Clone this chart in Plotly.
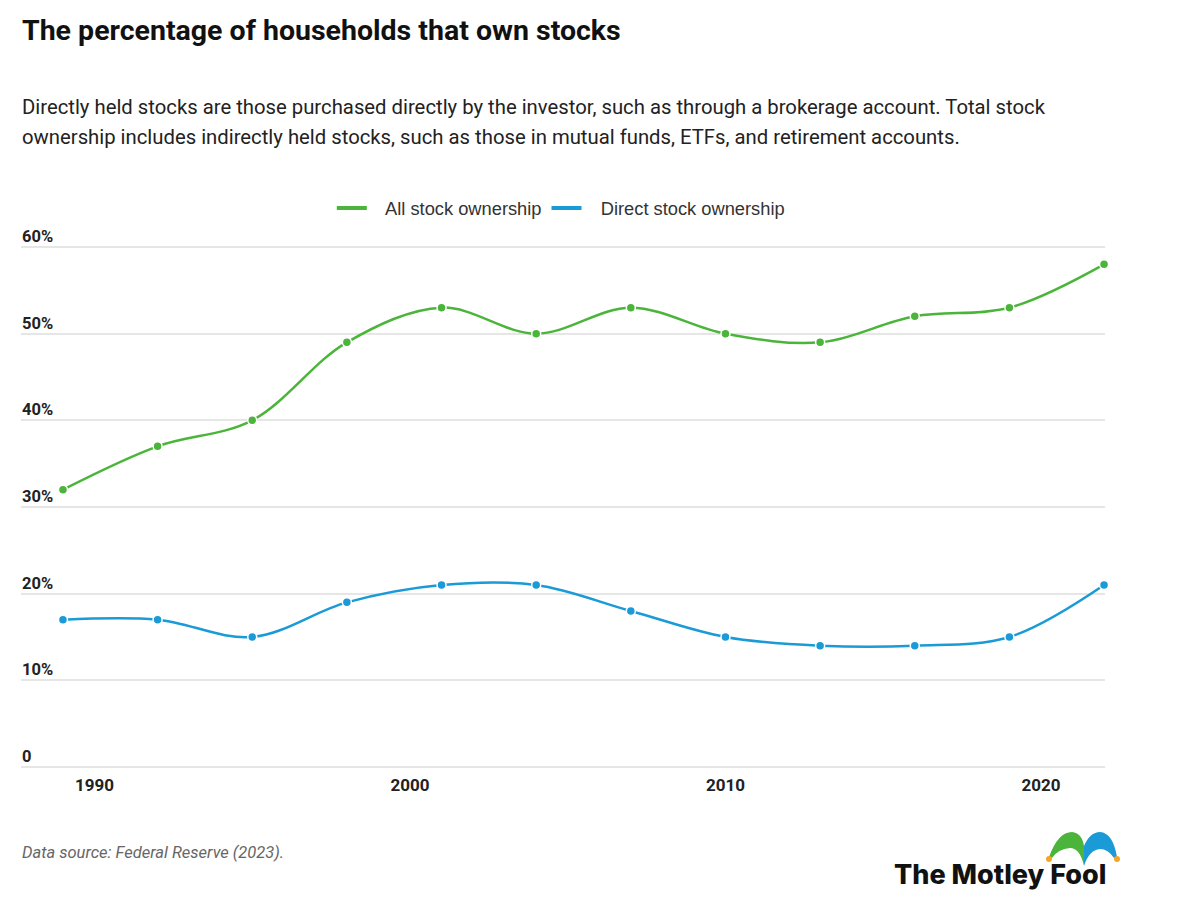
import plotly.graph_objects as go

years = [1989, 1992, 1995, 1998, 2001, 2004, 2007, 2010, 2013, 2016, 2019, 2022]
all_stock = [32, 37, 40, 49, 53, 50, 53, 50, 49, 52, 53, 58]
direct_stock = [17, 17, 15, 19, 21, 21, 18, 15, 14, 14, 15, 21]
x_ticks = [1990, 2000, 2010, 2020]
y_ticks = [0, 10, 20, 30, 40, 50, 60]
y_labels = ["0", "10%", "20%", "30%", "40%", "50%", "60%"]

GREEN = "#4bb43a"
BLUE = "#1a9ad6"

W, H = 1200, 910
L, R, T, B = 21, 1105, 245, 769
Y0, Y1 = -0.23, 60.23


def px(x):
    return (x - L) / (R - L)


def py(y):
    return (B - y) / (B - T)


fig = go.Figure()
for name, vals, col in [("All stock ownership", all_stock, GREEN),
                        ("Direct stock ownership", direct_stock, BLUE)]:
    fig.add_trace(go.Scatter(
        x=years, y=vals, mode="lines+markers", name=name, showlegend=False,
        line=dict(color=col, width=2.5, shape="spline", smoothing=1.0),
        marker=dict(color=col, size=9, line=dict(color="white", width=1.5)),
        cliponaxis=False, hovertemplate="%{x}: %{y}%<extra></extra>"))
    fig.add_trace(go.Scatter(
        x=[None], y=[None], mode="lines", name="\u2002 " + name, showlegend=True,
        line=dict(color=col, width=4)))

annotations = [
    dict(text="<b>The percentage of households that own stocks</b>", x=px(20), y=py(30),
         xanchor="left", yanchor="middle", font=dict(family="Roboto", size=28.5, color="#111")),
    dict(text="Directly held stocks are those purchased directly by the investor, such as through a brokerage account. Total stock",
         x=px(20), y=py(107), xanchor="left", yanchor="middle",
         font=dict(family="Roboto", size=20.3, color="#222")),
    dict(text="ownership includes indirectly held stocks, such as those in mutual funds, ETFs, and retirement accounts.",
         x=px(20), y=py(137), xanchor="left", yanchor="middle",
         font=dict(family="Roboto", size=20.3, color="#222")),
    dict(text="<i>Data source: Federal Reserve (2023).</i>", x=px(20), y=py(852),
         xanchor="left", yanchor="middle", font=dict(family="Roboto", size=16.5, color="#666")),
    dict(text="The Motley Fool", x=px(1108), y=py(874), xanchor="right", yanchor="middle",
         font=dict(family="Inter", size=27, color="#111", weight=800)),
]
for v, lab in zip(y_ticks, y_labels):
    annotations.append(dict(text=f"<b>{lab}</b>", x=px(20), y=v, yref="y",
                            xanchor="left", yanchor="bottom", yshift=-1,
                            font=dict(family="Roboto", size=16.5, color="#222")))
for a in annotations:
    a.setdefault("yref", "paper")
    a.update(xref="paper", showarrow=False)


def P(x, y):
    return f"{px(x):.5f},{py(y):.5f}"


green_hat = (f"M {P(1049,857)} Q {P(1058,832)} {P(1072,832)} Q {P(1082,833)} {P(1084,846)} "
             f"L {P(1084,866)} Q {P(1080,848)} {P(1070,848)} Q {P(1058,849)} {P(1052,858)} Z")
blue_hat = (f"M {P(1084,846)} Q {P(1090,832)} {P(1100,832)} Q {P(1113,833)} {P(1117,857)} "
            f"L {P(1114,858)} Q {P(1108,849)} {P(1100,849)} Q {P(1089,850)} {P(1084,866)} Z")
shapes = [
    dict(type="path", path=green_hat, xref="paper", yref="paper", fillcolor=GREEN, line=dict(width=0)),
    dict(type="path", path=blue_hat, xref="paper", yref="paper", fillcolor=BLUE, line=dict(width=0)),
]
for cx in (1049, 1117):
    shapes.append(dict(type="circle", xref="paper", yref="paper",
                       x0=px(cx - 3), x1=px(cx + 3), y0=py(862), y1=py(856),
                       fillcolor="#f5a623", line=dict(width=0)))

fig.update_layout(
    width=W, height=H,
    margin=dict(l=L, r=W - R, t=T, b=H - B),
    paper_bgcolor="white", plot_bgcolor="white",
    font=dict(family="Roboto", color="#222"),
    showlegend=True,
    legend=dict(orientation="h", x=0.498, xanchor="center", y=py(208), yanchor="middle",
                font=dict(family="Liberation Sans", size=18.3, color="#333"),
                itemwidth=30, tracegroupgap=0),
    annotations=annotations,
    shapes=shapes,
    xaxis=dict(range=[1987.67, 2022.03], tickvals=x_ticks, ticktext=[f"<b>{t}</b>" for t in x_ticks],
               showgrid=False, zeroline=False, showline=False, ticks="",
               tickfont=dict(family="Roboto", size=17, color="#222"), ticklabelstandoff=4),
    yaxis=dict(range=[Y0, Y1], tickvals=y_ticks, showticklabels=False,
               showgrid=True, gridcolor="#e6e6e6", gridwidth=1.5, zeroline=False, showline=False,
               ticks=""),
)

fig.write_html("out.html")
